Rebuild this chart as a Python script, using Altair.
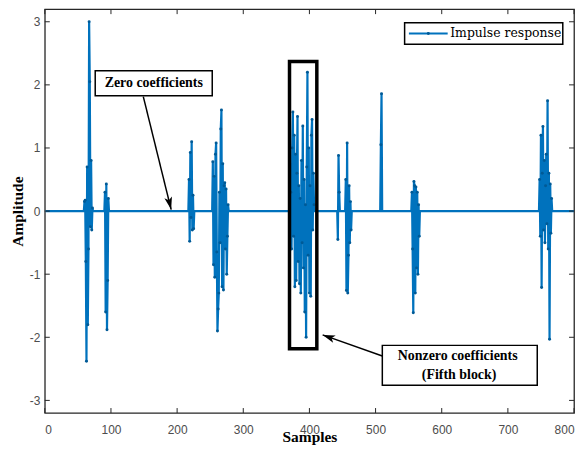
import math
import altair as alt
import pandas as pd

# ---------------- data ----------------
N_SAMPLES = 800

block1_start = 60
block1 = [0.15, 0.17, -0.8, -2.38, 0.7, -1.8, -0.6, 3.0, 2.05, -0.25, 0.8, -0.3, 0.05]
block2_start = 91
block2 = [0.3, -1.6, 0.43, -1.88, -1.1, 0.2]
block3_start = 218
block3 = [0.5, -0.48, 0.93, -0.1, 1.1, -0.3, 0.25, -0.28]
block4_start = 254
block4 = [0.78, -0.85, 0.55, -1.05, 0.9, 1.08, -0.65, -1.9, -1.55, -1.3, 0.3, -0.5,
          1.3, 1.6, -1.2, 0.75, -1.25, 0.4, 0.45, -0.6, 0.35, -1.0, -0.4, 0.1]
block5_start = 372
block5 = [0.3, -0.6, 1.0, 1.57, -0.4, 1.2, -1.2, 0.9, -1.1, 0.6, 1.5, -0.8,
          0.4, -1.15, 0.2, -1.3, 0.8, -0.5, 1.35, -0.9, 0.5, -1.6, 0.1, -2.0,
          0.7, 2.2, -0.7, 1.0, -1.3, 0.4, -1.35, 1.2, 1.45, -0.3, 0.6, 0.1]
block6a_start = 443
block6a = [-0.45, 0.88, 0.3]
block6b_start = 455
block6b = [0.5, -1.26, 1.08, -1.3, -0.7, 0.4, -0.5, 0.15, -0.3]
block7_start = 508
block7 = [1.05, 1.86]
block8_start = 555
block8 = [0.3, -0.6, -1.61, 0.47, 0.4, -1.3, 0.38, -0.9, 0.3, -1.0, 0.1, -0.4]
block9_start = 748
block9 = [0.5, -0.4, 1.2, -1.21, 0.6, 1.34, -0.3, 0.8, -0.5, 0.4, 0.9, -0.2,
          1.75, -0.6, 0.6, -2.03, 0.43, -0.35, 0.2]

x_tick_values = [0, 100, 200, 300, 400, 500, 600, 700, 800]
y_tick_values = [-3, -2, -1, 0, 1, 2, 3]
series_name = "Impulse response"

blocks = [(block1_start, block1), (block2_start, block2), (block3_start, block3),
          (block4_start, block4), (block5_start, block5), (block6a_start, block6a),
          (block6b_start, block6b), (block7_start, block7), (block8_start, block8),
          (block9_start, block9)]

samples = list(range(1, N_SAMPLES + 1))
amplitude = [0.0] * N_SAMPLES
for start, vals in blocks:
    for i, v in enumerate(vals):
        amplitude[start - 1 + i] = v

signal = pd.DataFrame({"sample": samples, "amp": amplitude})

# ---------------- layout ----------------
W, H = 532, 406
X_DOM = [0, 800]
Y_DOM = [-3.2, 3.2]
XS = W / (X_DOM[1] - X_DOM[0])
YS = H / (Y_DOM[1] - Y_DOM[0])
BLUE = "#0072BD"
SERIF = "Liberation Serif"
SANS = "Liberation Sans"

xscale = alt.Scale(domain=X_DOM, nice=False, zero=False)
yscale = alt.Scale(domain=Y_DOM, nice=False, zero=False)

x_axis = alt.Axis(values=x_tick_values, title="Samples", labelExpr="'' + datum.value",
                  labelPadding=12, titleY=28.5, titleBaseline="alphabetic")
y_axis = alt.Axis(values=y_tick_values, title="Amplitude", labelExpr="'' + datum.value",
                  labelPadding=5, titlePadding=4)


def X(field):
    return alt.X(field, scale=xscale, axis=x_axis)


def Y(field):
    return alt.Y(field, scale=yscale, axis=y_axis)


line = alt.Chart(signal).mark_line(strokeWidth=2.2, clip=True, color=BLUE).encode(
    x=X("sample:Q"), y=Y("amp:Q"))

dots = alt.Chart(signal).transform_filter("datum.amp != 0").mark_point(
    filled=True, size=9, opacity=1, color="#005a96").encode(
    x=X("sample:Q"), y=Y("amp:Q"))

# fifth-block frame
frame_df = pd.DataFrame({"x": [369.9], "x2": [411.2], "y": [2.372], "y2": [-2.183]})
frame = alt.Chart(frame_df).mark_rect(fillOpacity=0, stroke="black", strokeWidth=3.5).encode(
    x=X("x:Q"), x2="x2:Q", y=Y("y:Q"), y2="y2:Q")

# annotation arrows
arrows_df = pd.DataFrame({"x": [148.9, 510.2], "y": [1.813, -2.297],
                          "x2": [191.0, 420.0], "y2": [0.024, -1.962]})
arrows_df["ang"] = [
    (math.degrees(math.atan2((r.x2 - r.x) * XS, (r.y2 - r.y) * YS)) + 360) % 360
    for r in arrows_df.itertuples()
]
arrow_lines = alt.Chart(arrows_df).mark_rule(color="black", strokeWidth=1.5).encode(
    x=X("x:Q"), x2="x2:Q", y=Y("y:Q"), y2="y2:Q")
ARROW = "M0,0L0.45,1.45L0,1.1L-0.45,1.45Z"
arrow_heads = alt.Chart(arrows_df).mark_point(
    shape=ARROW, filled=True, color="black", size=300, opacity=1).encode(
    x=X("x2:Q"), y=Y("y2:Q"), angle=alt.Angle("ang:Q", scale=None))

# annotation boxes (incl. legend box)
boxes_df = pd.DataFrame({"x": [76.2, 510.2, 543.9], "x2": [253.1, 744.4, 783.0],
                         "y": [2.223, -2.128, 2.984], "y2": [1.829, -2.758, 2.644]})
boxes = alt.Chart(boxes_df).mark_rect(fill="white", stroke="black", strokeWidth=1.5).encode(
    x=X("x:Q"), x2="x2:Q", y=Y("y:Q"), y2="y2:Q")

texts_df = pd.DataFrame({"x": [164.7, 624.1, 626.3], "y": [2.026, -2.301, -2.593],
                         "label": ["Zero coefficients", "Nonzero coefficients", "(Fifth block)"]})
texts = alt.Chart(texts_df).mark_text(font=SERIF, fontWeight="bold", fontSize=14,
                                      color="black", align="center", baseline="middle").encode(
    x=X("x:Q"), y=Y("y:Q"), text="label:N")

# legend entry
leg_line_df = pd.DataFrame({"x": [550.4], "x2": [609.0], "y": [2.814]})
leg_line = alt.Chart(leg_line_df).mark_rule(color=BLUE, strokeWidth=2.2).encode(
    x=X("x:Q"), x2="x2:Q", y=Y("y:Q"))
leg_dot_df = pd.DataFrame({"x": [579.7], "y": [2.814]})
leg_dot = alt.Chart(leg_dot_df).mark_point(filled=True, size=9, opacity=1,
                                           color="#005a96").encode(x=X("x:Q"), y=Y("y:Q"))
leg_text_df = pd.DataFrame({"x": [612.8], "y": [2.814], "label": [series_name]})
leg_text = alt.Chart(leg_text_df).mark_text(font="DejaVu Serif", fontSize=12.5, color="black",
                                            align="left", baseline="middle").encode(
    x=X("x:Q"), y=Y("y:Q"), text="label:N")

# inward ticks (MATLAB style) on all four sides
TICK = 5
xt = pd.DataFrame({"t": x_tick_values})
yt = pd.DataFrame({"t": y_tick_values})
tick_kw = dict(color="#262626", strokeWidth=1)
ticks_bottom = alt.Chart(xt).mark_rule(**tick_kw).encode(
    x=X("t:Q"), y=alt.value(H), y2=alt.value(H - TICK))
ticks_top = alt.Chart(xt).mark_rule(**tick_kw).encode(
    x=X("t:Q"), y=alt.value(0), y2=alt.value(TICK))
ticks_left = alt.Chart(yt).mark_rule(**tick_kw).encode(
    y=Y("t:Q"), x=alt.value(0), x2=alt.value(TICK))
ticks_right = alt.Chart(yt).mark_rule(**tick_kw).encode(
    y=Y("t:Q"), x=alt.value(W - TICK), x2=alt.value(W))

chart = alt.layer(
    line, dots, frame, arrow_lines, arrow_heads, boxes, texts,
    leg_line, leg_dot, leg_text,
    ticks_bottom, ticks_top, ticks_left, ticks_right,
).properties(
    width=W, height=H,
    autosize=alt.AutoSizeParams(type="none"),
    padding={"left": 37, "top": 0, "right": 6, "bottom": 32},
).configure_view(
    stroke="#262626", strokeWidth=1.3
).configure_axis(
    domain=False, grid=False, ticks=False, tickSize=0,
    labelFont=SANS, labelFontSize=12, labelColor="#4d4d4d",
    titleFont=SERIF, titleFontWeight="bold", titleFontSize=15.5, titleColor="black",
)

chart.save("out.html", embed_options={"renderer": "svg", "actions": False})
